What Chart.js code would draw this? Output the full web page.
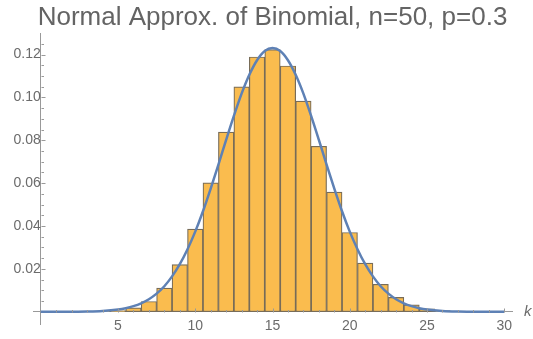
<!DOCTYPE html>
<html>
<head>
<meta charset="utf-8">
<script src="https://cdn.jsdelivr.net/npm/chart.js@4"></script>
<style>
  html, body { margin: 0; padding: 0; background: #fff; }
  #wrap { width: 533px; height: 339px; position: relative; }
</style>
</head>
<body>
<div id="wrap"><canvas id="binomChart"></canvas></div>
<script>
// histogram of Binomial(50, 0.3), one bar per k
var binK = [4, 5, 6, 7, 8, 9, 10, 11, 12, 13, 14, 15, 16, 17, 18, 19, 20, 21, 22, 23, 24, 25, 26, 27];
var binP = [0.00015, 0.0006, 0.0018, 0.0048, 0.0110, 0.0220, 0.0386, 0.0602, 0.0838, 0.1050, 0.1189, 0.1223,
            0.1147, 0.0983, 0.0772, 0.0558, 0.0370, 0.0227, 0.0128, 0.0067, 0.0032, 0.0014, 0.0006, 0.0002];

// normal approximation curve
var curveX = [0, 1, 2, 3, 4, 5, 5.5, 6, 6.5, 7, 7.5, 8, 8.5, 9, 9.5, 10, 10.5, 11, 11.5, 12, 12.5, 13, 13.5, 14, 14.5,
              15, 15.5, 16, 16.5, 17, 17.5, 18, 18.5, 19, 19.5, 20, 20.5, 21, 21.5, 22, 22.5, 23, 23.5, 24, 24.5,
              25, 26, 27, 28, 29, 30];
var curveY = [0.00000, 0.00001, 0.00004, 0.00013, 0.00039, 0.00105, 0.00167, 0.00260, 0.00395, 0.00585, 0.00846,
              0.0119, 0.0165, 0.0222, 0.0292, 0.0374, 0.0469, 0.0575, 0.0687, 0.0802, 0.0914, 0.1018, 0.1106, 0.1174, 0.1217,
              0.1231, 0.1217, 0.1174, 0.1106, 0.1018, 0.0914, 0.0802, 0.0687, 0.0575, 0.0469, 0.0374, 0.0292, 0.0222, 0.0165,
              0.0119, 0.00846, 0.00585, 0.00395, 0.00260, 0.00167, 0.00105, 0.00039, 0.00013, 0.00004, 0.00001, 0.00000];

var xTicks = [5, 10, 15, 20, 25, 30];
var yTicks = [0.02, 0.04, 0.06, 0.08, 0.10, 0.12];

var axisColor = '#999999';
var labelColor = '#6b6b6b';
var fontFam = '"Liberation Sans", Arial, sans-serif';

// Mathematica style inward tick marks (major + minor) and the "k" label
var axisTicks = {
  id: 'axisTicks',
  afterDraw: function (chart) {
    var ctx = chart.ctx;
    var xs = chart.scales.x, ys = chart.scales.y;
    var y0 = Math.round(ys.getPixelForValue(0)) + 0.5;
    var x0 = Math.round(xs.getPixelForValue(0)) + 0.5;
    ctx.save();
    ctx.strokeStyle = axisColor;
    ctx.lineWidth = 1;
    ctx.beginPath();
    for (var i = 1; i <= 30; i++) {
      var px = Math.round(xs.getPixelForValue(i)) + 0.5;
      var len = (i % 5 === 0) ? 4 : 2.5;
      ctx.moveTo(px, y0);
      ctx.lineTo(px, y0 - len);
    }
    for (var j = 1; j <= 25; j++) {
      var py = Math.round(ys.getPixelForValue(j * 0.005)) + 0.5;
      var l2 = (j % 4 === 0) ? 4 : 2.5;
      ctx.moveTo(x0, py);
      ctx.lineTo(x0 + l2, py);
    }
    ctx.stroke();
    ctx.fillStyle = labelColor;
    ctx.font = 'italic 15px ' + fontFam;
    ctx.textAlign = 'left';
    ctx.textBaseline = 'middle';
    ctx.fillText('k', xs.right + 12, y0 - 1);
    ctx.restore();
  }
};

var ctx = document.getElementById('binomChart').getContext('2d');
var binomChart = new Chart(ctx, {
  type: 'bar',
  data: {
    datasets: [{
      type: 'line',
      label: 'Normal',
      data: curveX.map(function (x, i) { return { x: x, y: curveY[i] }; }),
      borderColor: '#5E81B5',
      borderWidth: 2.5,
      pointRadius: 0,
      cubicInterpolationMode: 'monotone',
      fill: false,
      order: 0
    }, {
      type: 'bar',
      label: 'Binomial',
      data: binK.map(function (k, i) { return { x: k, y: binP[i] }; }),
      backgroundColor: 'rgba(250, 188, 78, 1)',
      borderColor: 'rgba(120, 108, 88, 1)',
      borderWidth: 1.2,
      borderSkipped: false,
      barPercentage: 1,
      categoryPercentage: 1,
      order: 1
    }]
  },
  options: {
    responsive: true,
    maintainAspectRatio: false,
    animation: false,
    layout: { padding: { left: 33, right: 21, bottom: 10, top: 0 } },
    plugins: {
      legend: { display: false },
      tooltip: { enabled: false },
      title: {
        display: true,
        text: 'Normal Approx. of Binomial, n=50, p=0.3',
        color: '#646464',
        font: { family: fontFam, size: 26, weight: 'normal', lineHeight: 1.2 },
        padding: { top: 2, bottom: 0 }
      }
    },
    scales: {
      x: {
        type: 'linear',
        position: { y: 0 },
        min: -0.5,
        max: 30.5,
        offset: false,
        afterBuildTicks: function (scale) {
          scale.ticks = xTicks.map(function (v) { return { value: v }; });
        },
        ticks: {
          color: labelColor,
          padding: 6,
          autoSkip: false,
          maxRotation: 0,
          font: { family: fontFam, size: 14 }
        },
        grid: { display: false, drawTicks: false },
        border: { display: true, color: axisColor, width: 1 }
      },
      y: {
        type: 'linear',
        position: { x: 0 },
        min: -0.006,
        max: 0.13,
        afterBuildTicks: function (scale) {
          scale.ticks = yTicks.map(function (v) { return { value: v }; });
        },
        ticks: {
          color: labelColor,
          padding: 6,
          callback: function (v) { return v.toFixed(2); },
          font: { family: fontFam, size: 14 }
        },
        grid: { display: false, drawTicks: false },
        border: { display: true, color: axisColor, width: 1 }
      }
    }
  },
  plugins: [axisTicks]
});
</script>
</body>
</html>
